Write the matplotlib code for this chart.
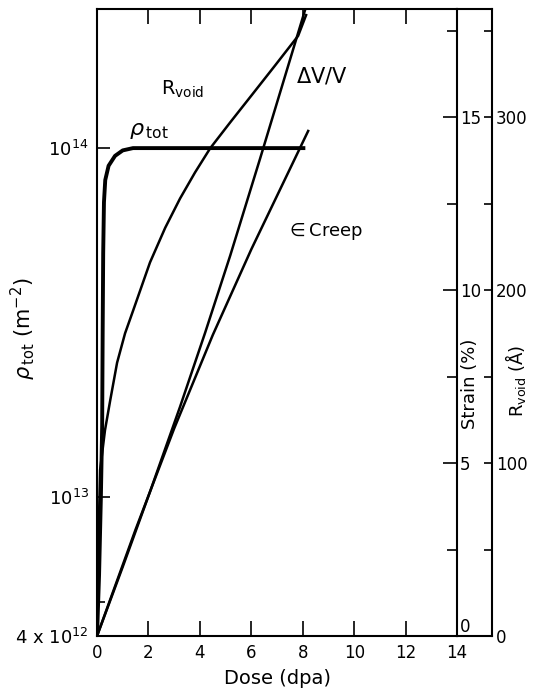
import matplotlib
matplotlib.use('Agg')
import matplotlib.pyplot as plt
from matplotlib.ticker import FixedLocator, NullFormatter
from matplotlib.lines import Line2D

# Datos
rho_dose = [0, 0.08, 0.15, 0.2, 0.22, 0.24, 0.27, 0.32, 0.45, 0.7, 1.0, 1.4, 8.1]
rho_val = [4e12, 6e12, 1e13, 1.6e13, 3e13, 5e13, 7e13, 8.1e13, 8.9e13, 9.5e13, 9.85e13, 1e14, 1e14]

rvoid_dose = [0, 0.04, 0.12, 0.31, 0.51, 0.78, 1.09, 1.4, 2.06, 2.65, 3.23, 3.81,
              4.4, 5.18, 6.03, 6.93, 7.82, 8.13]
rvoid_val = [0, 44, 96, 119, 136, 158, 175, 188, 216, 236, 253, 268,
             282, 297, 313, 330, 347, 359]

swell_dose = [0, 1.0, 2.06, 3.23, 4.2, 5.18, 6.34, 8.09]
swell_val = [0, 2.0, 4.17, 6.63, 8.76, 11.0, 13.8, 18.1]

creep_dose = [0, 1.5, 3.0, 4.5, 6.0, 8.21]
creep_val = [0, 3.08, 6.0, 8.7, 11.18, 14.6]

x_ticks = [0, 2, 4, 6, 8, 10, 12, 14]
strain_ticks = [0, 5, 10, 15]
strain_minor = [2.5, 7.5, 12.5, 17.5]
r_ticks = [0, 100, 200, 300]
r_minor = [50, 150, 250, 350]

fig = plt.figure(figsize=(5.39, 6.98), dpi=100)
ax = fig.add_axes([0.18, 0.0888, 0.668, 0.898])

# Eje izquierdo (log)
ax.set_yscale('log')
ax.set_xlim(0, 14)
ax.set_ylim(4e12, 2.5e14)
ax.plot(rho_dose, rho_val, color='black', lw=2.8, solid_capstyle='butt')

ax.xaxis.set_major_locator(FixedLocator(x_ticks))
ax.set_xticklabels([str(t) for t in x_ticks], fontsize=12)
ax.tick_params(axis='x', which='major', direction='in', length=11, width=1.2,
               top=True, pad=6)
ax.yaxis.set_major_locator(FixedLocator([4e12, 1e13, 1e14]))
ax.yaxis.set_minor_locator(FixedLocator([5e12]))
ax.yaxis.set_minor_formatter(NullFormatter())
ax.set_yticklabels([r'4 x $10^{12}$', r'$10^{13}$', r'$10^{14}$'], fontsize=13)
ax.tick_params(axis='y', which='both', direction='in', length=9, width=1.2,
               right=False, pad=6)
ax.tick_params(axis='y', which='minor', length=6)
ax.spines['right'].set_visible(False)
for s in ['left', 'top', 'bottom']:
    ax.spines[s].set_linewidth(1.5)

ax.set_xlabel('Dose (dpa)', fontsize=14, labelpad=5)
ax.set_ylabel(r'$\rho_{\,\mathrm{tot}}$ (m$^{-2}$)', fontsize=15)
ax.yaxis.set_label_coords(-0.165, 0.49)

# Eje de deformacion (%)
ax2 = ax.twinx()
ax2.set_ylim(0, 18.12)
ax2.plot(swell_dose, swell_val, color='black', lw=1.8)
ax2.plot(creep_dose, creep_val, color='black', lw=1.8)
ax2.yaxis.set_major_locator(FixedLocator(strain_ticks))
ax2.yaxis.set_minor_locator(FixedLocator(strain_minor))
ax2.set_yticklabels([str(t) for t in strain_ticks], fontsize=12)
ax2.tick_params(axis='y', which='both', direction='in', length=10, width=1.2, pad=2)
ax2.tick_params(axis='y', which='minor', length=7)
for s in ['left', 'top', 'bottom']:
    ax2.spines[s].set_visible(False)
ax2.spines['right'].set_linewidth(1.5)
labs = ax2.get_yticklabels()
labs[0].set_va('bottom')

# Eje de Rvoid (Angstrom)
ax3 = ax.twinx()
ax3.set_ylim(0, 362.4)
ax3.plot(rvoid_dose, rvoid_val, color='black', lw=1.8)
ax3.spines['right'].set_position(('axes', 1.097))
ax3.yaxis.set_major_locator(FixedLocator(r_ticks))
ax3.yaxis.set_minor_locator(FixedLocator(r_minor))
ax3.set_yticklabels([str(t) for t in r_ticks], fontsize=12)
ax3.tick_params(axis='y', which='both', direction='in', length=6, width=1.2, pad=3)
for s in ['left', 'top', 'bottom']:
    ax3.spines[s].set_visible(False)
ax3.spines['right'].set_linewidth(1.5)

# Cierre de la caja entre los dos ejes derechos
fig.add_artist(Line2D([0.848, 0.913], [0.987, 0.987], color='black', lw=1.5))
fig.add_artist(Line2D([0.848, 0.913], [0.0888, 0.0888], color='black', lw=1.5))

fig.text(0.872, 0.45, 'Strain (%)', rotation=90, fontsize=13, ha='center', va='center')
fig.text(0.957, 0.455, r'R$_{\mathrm{void}}$ (Å)', rotation=90, fontsize=13,
         ha='center', va='center')

# Etiquetas de curvas
ax2.text(2.5, 15.8, r'R$_{\mathrm{void}}$', fontsize=14, va='center')
ax2.text(1.25, 14.6, r'$\rho_{\,\mathrm{tot}}$', fontsize=16, va='center')
ax2.text(7.75, 16.2, r'$\Delta$V/V', fontsize=15, va='center')
ax2.text(7.35, 11.7, r'$\in$Creep', fontsize=13, va='center')

plt.savefig('out.png', dpi=100)
